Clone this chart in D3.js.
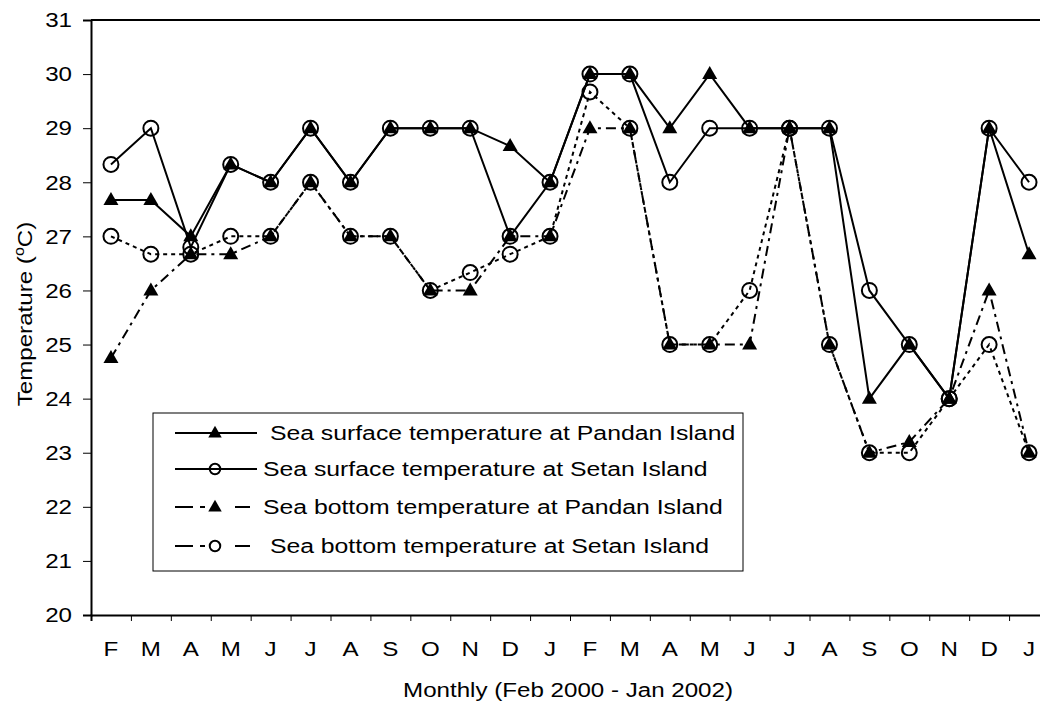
<!DOCTYPE html>
<html>
<head>
<meta charset="utf-8">
<script src="https://cdn.jsdelivr.net/npm/d3@7"></script>
<style>
  body { margin: 0; background: #fff; }
  text { font-family: "Liberation Sans", Arial, sans-serif; fill: #000; }
</style>
</head>
<body>
<svg width="1040" height="704"></svg>
<script>
// months Feb 2000 .. Jan 2002
var months = ["F","M","A","M","J","J","A","S","O","N","D","J",
              "F","M","A","M","J","J","A","S","O","N","D","J"];

var surfacePandan = [27.67,27.67,27,28.33,28,29,28,29,29,29,28.67,28,
                     30,30,29,30,29,29,29,24,25,24,29,26.67];
var surfaceSetan  = [28.33,29,26.8,28.33,28,29,28,29,29,29,27,28,
                     30,30,28,29,29,29,29,26,25,24,29,28];
var bottomPandan  = [24.75,26,26.67,26.67,27,28,27,27,26,26,27,27,
                     29,29,25,25,25,29,25,23,23.2,24,26,23];
var bottomSetan   = [27,26.67,26.67,27,27,28,27,27,26,26.33,26.67,27,
                     29.67,29,25,25,26,29,25,23,23,24,25,23];

var seriesNames = [" Sea surface temperature at Pandan Island",
                   "Sea surface temperature at Setan Island",
                   "Sea bottom temperature at Pandan Island",
                   " Sea bottom temperature at Setan Island"];

var yTicks = [20,21,22,23,24,25,26,27,28,29,30,31];

var series = [
  {name: seriesNames[0], values: surfacePandan, marker: "tri",  dash: null},
  {name: seriesNames[1], values: surfaceSetan,  marker: "circ", dash: null},
  {name: seriesNames[2], values: bottomPandan,  marker: "tri",  dash: "10,5,3,5"},
  {name: seriesNames[3], values: bottomSetan,   marker: "circ", dash: "4,4"}
];

var svg = d3.select("svg");
var mLeft = 91, mRight = 1049, mTop = 20, mBottom = 615;
var SX = 1.15; // glyphs in the original are a bit wider than Arial

var x = d3.scaleBand().domain(d3.range(months.length)).range([mLeft, mRight]);
var xb = d3.scaleLinear().domain([0, months.length]).range([mLeft, mRight]);
var y = d3.scaleLinear().domain([20, 31]).range([mBottom, mTop]);

function cx(i) { return x(i) + x.bandwidth() / 2; }

function stretch(sel) {
  sel.each(function() {
    var t = d3.select(this);
    var ox = +t.attr("x") || 0;
    t.attr("x", ox / SX).attr("transform", "scale(" + SX + ",1)");
  });
}

// top border
svg.append("line").attr("x1", mLeft).attr("x2", 1040).attr("y1", mTop).attr("y2", mTop)
  .attr("stroke", "#000").attr("stroke-width", 2);

// y axis
var gy = svg.append("g").attr("transform", "translate(" + mLeft + ",0)")
  .call(d3.axisLeft(y).tickValues(yTicks).tickSize(8).tickPadding(11).tickFormat(d3.format("d")));
gy.select(".domain").attr("stroke-width", 2);
gy.selectAll("text").style("font-size", "21px").attr("font-family", null).call(stretch);

// x axis: ticks on band edges, labels at centres
var gxt = svg.append("g").attr("transform", "translate(0," + mBottom + ")")
  .call(d3.axisBottom(xb).tickValues(d3.range(months.length + 1)).tickSize(6).tickFormat(""));
gxt.select(".domain").attr("stroke-width", 2);

var gx = svg.append("g").attr("transform", "translate(0," + mBottom + ")")
  .call(d3.axisBottom(x).tickSize(0).tickPadding(26).tickFormat(function(i) { return months[i]; }));
gx.select(".domain").remove();
gx.selectAll("text").style("font-size", "21px").attr("font-family", null).call(stretch);

// axis titles
svg.append("text").attr("transform", "translate(568,697) scale(" + SX + ",1)")
  .attr("text-anchor", "middle").style("font-size", "21px").text("Monthly (Feb 2000 - Jan 2002)");

var yt = svg.append("text").attr("transform", "translate(32,314) rotate(-90) scale(" + SX + ",1)")
  .attr("text-anchor", "middle").style("font-size", "21px");
yt.append("tspan").text("Temperature (");
yt.append("tspan").attr("dy", -8).style("font-size", "14px").text("o");
yt.append("tspan").attr("dy", 8).text("C)");

// marker drawing
function drawMarker(g, type, px, py, sz) {
  sz = sz || 1;
  if (type === "tri") {
    g.append("path").attr("d", "M0,-8L7.5,5L-7.5,5Z")
      .attr("transform", "translate(" + px + "," + py + ") scale(" + sz + ")")
      .attr("fill", "#000");
  } else {
    g.append("circle").attr("cx", px).attr("cy", py).attr("r", 7.5 * sz)
      .attr("fill", "none").attr("stroke", "#000").attr("stroke-width", 2);
  }
}

var line = d3.line().x(function(d, i) { return cx(i); }).y(function(d) { return y(d); });

var plot = svg.append("g");
series.forEach(function(s) {
  plot.append("path").datum(s.values).attr("d", line)
    .attr("fill", "none").attr("stroke", "#000").attr("stroke-width", 2)
    .attr("stroke-dasharray", s.dash);
});
series.forEach(function(s) {
  var g = plot.append("g");
  s.values.forEach(function(v, i) { drawMarker(g, s.marker, cx(i), y(v)); });
});

// legend
var lg = svg.append("g");
lg.append("rect").attr("x", 153).attr("y", 413).attr("width", 590).attr("height", 158)
  .attr("fill", "#fff").attr("stroke", "#000").attr("stroke-width", 1);
var rowY = [433, 469, 507, 546];
series.forEach(function(s, k) {
  var ly = rowY[k];
  lg.append("line").attr("x1", 175).attr("x2", s.dash ? 250 : 257).attr("y1", ly).attr("y2", ly)
    .attr("stroke", "#000").attr("stroke-width", 2)
    .attr("stroke-dasharray", s.dash ? "18,7,5,30,15" : null);
  drawMarker(lg, s.marker, 215, ly, s.marker === "circ" ? 0.7 : 0.9);
  lg.append("text").attr("transform", "translate(263," + (ly + 7) + ") scale(1.18,1)")
    .style("font-size", "21px").style("white-space", "pre").text(s.name);
});
</script>
</body>
</html>
